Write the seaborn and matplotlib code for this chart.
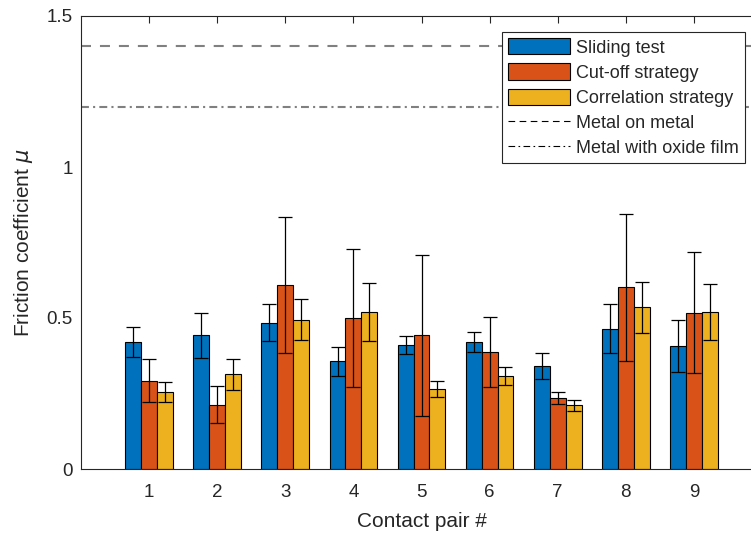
import numpy as np
import pandas as pd
import matplotlib
matplotlib.use("Agg")
import matplotlib.pyplot as plt
import seaborn as sns
from matplotlib.lines import Line2D
from matplotlib.patches import Patch

# Measured friction coefficients per contact pair
pairs = [1, 2, 3, 4, 5, 6, 7, 8, 9]
sliding_mean = [0.421, 0.443, 0.485, 0.357, 0.410, 0.420, 0.340, 0.465, 0.408]
sliding_std = [0.050, 0.074, 0.060, 0.048, 0.030, 0.033, 0.043, 0.082, 0.086]
cutoff_mean = [0.293, 0.213, 0.609, 0.501, 0.443, 0.388, 0.236, 0.602, 0.518]
cutoff_std = [0.072, 0.062, 0.225, 0.229, 0.267, 0.115, 0.020, 0.243, 0.200]
corr_mean = [0.255, 0.313, 0.495, 0.520, 0.264, 0.307, 0.211, 0.535, 0.520]
corr_std = [0.033, 0.052, 0.068, 0.095, 0.027, 0.030, 0.018, 0.085, 0.092]

series = ["Sliding test", "Cut-off strategy", "Correlation strategy"]
colors = ["#0072BD", "#D95319", "#EDB120"]

# Reference friction levels
metal_on_metal = 1.4
metal_oxide = 1.2

df = pd.DataFrame({
    "pair": pairs * 3,
    "mu": sliding_mean + cutoff_mean + corr_mean,
    "series": [series[0]] * 9 + [series[1]] * 9 + [series[2]] * 9,
})
errs = [sliding_std, cutoff_std, corr_std]
means = [sliding_mean, cutoff_mean, corr_mean]

sns.set_style("white")
plt.rcParams["font.family"] = ["Liberation Sans", "DejaVu Sans"]
plt.rcParams["mathtext.fontset"] = "dejavusans"

text_col = "#262626"
fig = plt.figure(figsize=(7.51, 5.36), dpi=100)
ax = fig.add_axes([81 / 751, 1 - 469 / 536, 681 / 751, (469 - 16) / 536])

sns.barplot(data=df, x="pair", y="mu", hue="series", hue_order=series,
            palette=colors, native_scale=True, width=0.7, errorbar=None,
            edgecolor="black", linewidth=0.8, saturation=1, legend=False, ax=ax)

# error bars at the bar centres
for cont, m, e in zip(ax.containers, means, errs):
    xs = [b.get_x() + b.get_width() / 2 for b in cont]
    ax.errorbar(xs, m, yerr=e, fmt="none", ecolor="black", elinewidth=0.9,
                capsize=4.7, capthick=0.9, zorder=5)

ax.axhline(metal_on_metal, color="#808080", lw=1.5, dashes=(4.8, 4.3), zorder=1)
ax.axhline(metal_oxide, color="#808080", lw=1.5, dashes=(3.8, 2.0, 1.0, 2.0), zorder=1)

ax.set_xlim(0, 10)
ax.set_ylim(0, 1.5)
ax.set_xticks(pairs)
ax.set_xticklabels([str(p) for p in pairs])
ax.set_yticks([0, 0.5, 1, 1.5])
ax.set_yticklabels(["0", "0.5", "1", "1.5"])
ax.tick_params(direction="in", top=True, right=True, length=5, width=0.8,
               colors=text_col, labelsize=13.5)
ax.tick_params(axis="x", pad=11)
ax.tick_params(axis="y", pad=6)
for s in ax.spines.values():
    s.set_visible(True)
    s.set_color(text_col)
    s.set_linewidth(0.8)

ax.set_xlabel("Contact pair #", fontsize=15, color=text_col, labelpad=8)
ax.set_ylabel(r"Friction coefficient $\mu$", fontsize=15, color=text_col, labelpad=8)

handles = [Patch(facecolor=c, edgecolor="black", linewidth=0.8) for c in colors]
handles += [
    Line2D([], [], color="black", lw=0.8, dashes=(6, 4)),
    Line2D([], [], color="black", lw=0.8, dashes=(6, 3, 1.5, 3)),
]
labels = series + ["Metal on metal", "Metal with oxide film"]
leg = ax.legend(handles, labels, loc="upper right",
                bbox_to_anchor=(745 / 751, 1 - 32 / 536),
                bbox_transform=fig.transFigure, borderaxespad=0,
                fontsize=13, handlelength=3.4, handleheight=1.0,
                labelspacing=0.38, handletextpad=0.35, borderpad=0.35,
                frameon=True, fancybox=False, framealpha=1,
                edgecolor=text_col)
leg.get_frame().set_linewidth(0.8)
for t in leg.get_texts():
    t.set_color(text_col)

fig.savefig("out.png", dpi=100)
